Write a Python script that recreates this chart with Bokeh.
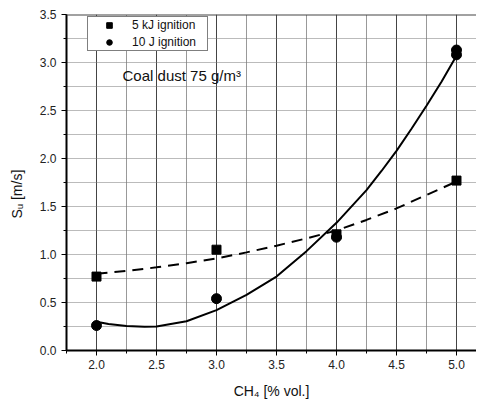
from bokeh.plotting import figure
from bokeh.models import SingleIntervalTicker, Span, Label, Range1d, CustomJSTickFormatter
from bokeh.embed import file_html
from bokeh.resources import INLINE

# measured points
ch4_5kj = [2.0, 3.0, 4.0, 5.0]
su_5kj = [0.77, 1.05, 1.21, 1.77]
ch4_10j = [2.0, 3.0, 4.0, 5.0, 5.0]
su_10j = [0.26, 0.54, 1.18, 3.08, 3.13]

# fitted curves
fit5_x = [2.0, 2.25, 2.5, 2.75, 3.0, 3.25, 3.5, 3.75, 4.0, 4.25, 4.5, 4.75, 5.0]
fit5_y = [0.80, 0.828, 0.866, 0.91, 0.958, 1.022, 1.092, 1.168, 1.25, 1.36, 1.48, 1.62, 1.76]
fit10_x = [2.0, 2.1, 2.25, 2.4, 2.5, 2.75, 3.0, 3.25, 3.5, 3.75, 4.0, 4.25, 4.375, 4.5, 4.625, 4.75, 4.875, 5.0]
fit10_y = [0.30, 0.275, 0.255, 0.247, 0.25, 0.305, 0.42, 0.58, 0.77, 1.035, 1.33, 1.67, 1.87, 2.08, 2.31, 2.55, 2.80, 3.07]

FONT = "Liberation Sans"

p = figure(frame_width=410, frame_height=336, output_backend="svg", toolbar_location=None,
           x_range=Range1d(1.75, 5.1667), y_range=Range1d(0, 3.5),
           min_border_left=66, min_border_right=0, min_border_top=14, min_border_bottom=48)
p.outline_line_color = None
p.background_fill_color = "white"

for ax in (p.xaxis[0], p.yaxis[0]):
    ax.axis_line_color = "black"
    ax.axis_line_width = 2
    ax.major_tick_line_color = "black"
    ax.minor_tick_line_color = "black"
    ax.major_tick_out = 5
    ax.major_tick_in = 0
    ax.minor_tick_out = 3
    ax.minor_tick_in = 0
    ax.major_label_text_font = FONT
    ax.major_label_text_font_size = "12px"
    ax.major_label_text_color = "#222222"
    ax.axis_label_text_font = FONT
    ax.axis_label_text_font_size = "14px"
    ax.axis_label_text_font_style = "normal"
    ax.axis_label_text_color = "#111111"

p.xaxis.major_label_standoff = 4
p.yaxis.major_label_standoff = 5
p.xaxis.ticker = SingleIntervalTicker(interval=0.5, num_minor_ticks=2)
p.yaxis.ticker = SingleIntervalTicker(interval=0.5, num_minor_ticks=2)
p.xaxis.formatter = CustomJSTickFormatter(code="return tick.toFixed(1);")
p.yaxis.formatter = CustomJSTickFormatter(code="return tick.toFixed(1);")
p.xaxis.axis_label = "CH\u2084 [% vol.]"
p.xaxis.axis_label_standoff = 11
p.yaxis.axis_label = "S\u1d64 [m/s]" + "\u00a0" * 6
p.yaxis.axis_label_standoff = 12

# grid
p.xgrid.grid_line_color = "#444444"
p.xgrid.grid_line_width = 1
p.xgrid.minor_grid_line_color = "#333333"
p.xgrid.minor_grid_line_dash = "1 1"
p.ygrid.grid_line_color = None
p.ygrid.minor_grid_line_color = "#777777"
p.ygrid.minor_grid_line_dash = "1 1"

p.add_layout(Span(location=3.5, dimension="width", line_color="#444444", line_width=2))

# curves
p.line(fit5_x, fit5_y, line_color="black", line_width=2, line_dash="11 7")
p.line(fit10_x, fit10_y, line_color="black", line_width=2)

# points
p.scatter(ch4_5kj, su_5kj, marker="square", size=9, color="black", legend_label="5 kJ ignition")
p.scatter(ch4_10j, su_10j, marker="circle", size=10, color="black", legend_label="10 J ignition")

lg = p.legend[0]
lg.location = (21, 299)
lg.border_line_color = "black"
lg.border_line_width = 1
lg.background_fill_color = "white"
lg.background_fill_alpha = 1
lg.padding = 1
lg.margin = 0
lg.spacing = 3
lg.glyph_width = 40
lg.glyph_height = 14
lg.label_height = 14
lg.label_width = 74
lg.label_standoff = 3
lg.label_text_font = FONT
lg.label_text_font_size = "12px"
lg.label_text_color = "#111111"

p.add_layout(Label(x=2.217, y=2.865, text="Coal dust 75 g/m\u00b3", text_font=FONT,
                   text_font_size="15px", text_color="#111111", text_baseline="alphabetic"))

open("out.html", "w").write(file_html(p, INLINE))
